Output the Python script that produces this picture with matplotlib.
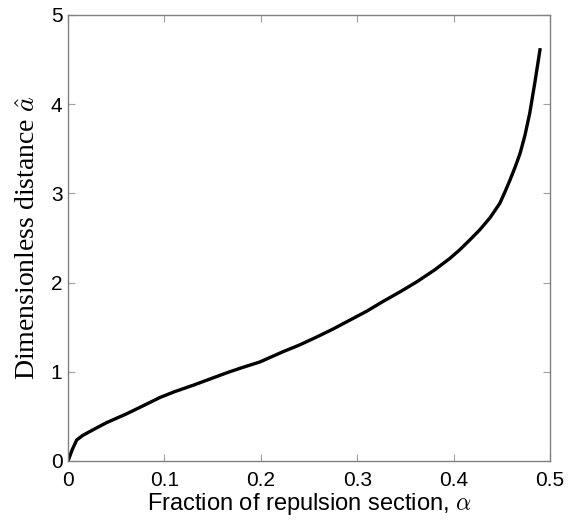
import matplotlib
matplotlib.use("Agg")
import matplotlib.pyplot as plt

# curve
alpha = [0.0, 0.0045, 0.009, 0.015, 0.026, 0.04, 0.061, 0.08, 0.095, 0.11,
         0.13, 0.145, 0.165, 0.18, 0.199, 0.223, 0.24, 0.258, 0.275,
         0.2925, 0.31, 0.327, 0.345, 0.362, 0.38, 0.396, 0.4066, 0.417,
         0.427, 0.438, 0.448, 0.453, 0.4585, 0.464, 0.469, 0.474, 0.479,
         0.4844, 0.4896]
dist = [0.0, 0.13, 0.235, 0.285, 0.35, 0.43, 0.53, 0.63, 0.71, 0.775,
        0.85, 0.91, 0.99, 1.045, 1.11, 1.225, 1.30, 1.39, 1.48,
        1.58, 1.68, 1.79, 1.90, 2.01, 2.14, 2.27, 2.37, 2.48,
        2.59, 2.73, 2.89, 3.01, 3.15, 3.30, 3.45, 3.65, 3.90,
        4.25, 4.61]

xticks = [0, 0.1, 0.2, 0.3, 0.4, 0.5]
xticklabels = ['0', '0.1', '0.2', '0.3', '0.4', '0.5']
yticks = [0, 1, 2, 3, 4, 5]

plt.rcParams['mathtext.fontset'] = 'cm'
fig = plt.figure(figsize=(5.68, 5.21), dpi=100)
ax = fig.add_axes([68/568, 1-461/521, 482/568, 446/521])

ax.plot(alpha, dist, color='black', linewidth=2.4, solid_joinstyle='round')
ax.set_xlim(0, 0.5)
ax.set_ylim(0, 5)
ax.set_xticks(xticks)
ax.set_xticklabels(xticklabels)
ax.set_yticks(yticks)

for s in ax.spines.values():
    s.set_color('#808080')
    s.set_linewidth(1.0)
ax.tick_params(direction='in', length=5, color='#a0a0a0', top=True, right=True,
               labelsize=15)
ax.tick_params(axis='x', pad=7)
ax.tick_params(axis='y', pad=4)
for lab in ax.get_xticklabels() + ax.get_yticklabels():
    lab.set_family('Liberation Sans')

ax.set_xlabel(r'Fraction of repulsion section, $\alpha$', fontsize=17,
              family='Liberation Sans', labelpad=1)
ax.set_ylabel(r'Dimensionless distance $\hat{a}$', fontsize=20,
              family='Liberation Serif', labelpad=7)

fig.savefig('out.png', dpi=100)
